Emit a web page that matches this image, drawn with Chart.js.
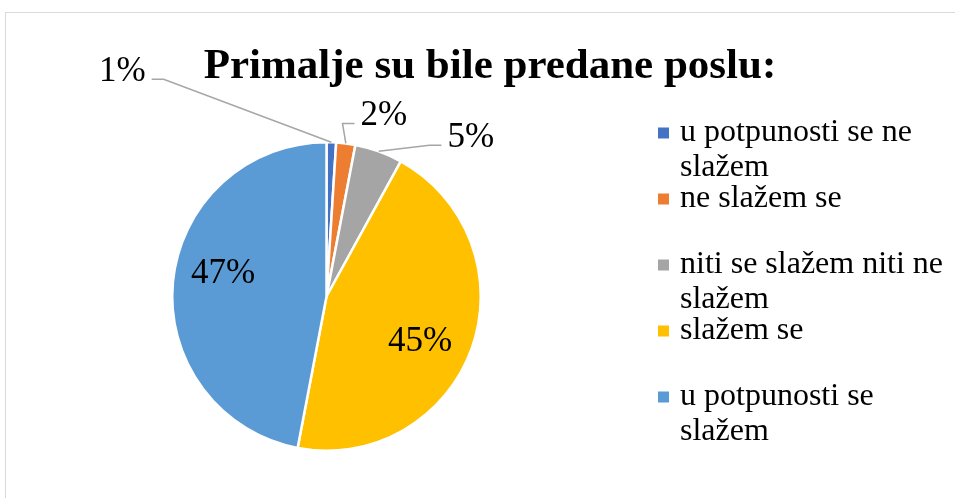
<!DOCTYPE html>
<html>
<head>
<meta charset="utf-8">
<script src="https://cdn.jsdelivr.net/npm/chart.js@4"></script>
<style>
    body { margin: 0; background: #fff; overflow: hidden; }
    #wrap { position: relative; width: 955px; height: 498px; }
    #frame { position: absolute; left: 5px; top: 12px; width: 1000px; height: 600px; border: 1px solid #d9d9d9; }
    canvas { position: absolute; left: 0; top: 0; }
</style>
</head>
<body>
<div id="wrap">
    <div id="frame"></div>
    <canvas id="myChart" width="955" height="498"></canvas>
</div>
<script>
// Pie chart: Primalje su bile predane poslu

const chartTitle = 'Primalje su bile predane poslu:';
const categories = [
    'u potpunosti se ne slažem',
    'ne slažem se',
    'niti se slažem niti ne slažem',
    'slažem se',
    'u potpunosti se slažem'
];
const percentages = [1, 2, 5, 45, 47];
const sliceColors = ['#4472C4', '#ED7D31', '#A5A5A5', '#FFC000', '#5B9BD5'];

const serif = '"Liberation Serif", "Times New Roman", serif';

// where each % label sits, relative to the slice's mid point (outer edge or inside)
const labelPlacement = [
    { inside: false, dx: -209, dy: -71 },
    { inside: false, dx: 38, dy: -28 },
    { inside: false, dx: 92, dy: -14 },
    { inside: true, dx: -5, dy: 10 },
    { inside: true, dx: 1, dy: -13 }
];

function wrapText(ctx, text, maxWidth) {
    const words = text.split(' ');
    const lines = [];
    let line = '';
    words.forEach(w => {
        const test = line ? line + ' ' + w : w;
        if (line && ctx.measureText(test).width > maxWidth) {
            lines.push(line);
            line = w;
        } else {
            line = test;
        }
    });
    if (line) lines.push(line);
    return lines;
}

const pieExtras = {
    id: 'pieExtras',
    afterDatasetsDraw(chart) {
        const ctx = chart.ctx;
        const meta = chart.getDatasetMeta(0);
        ctx.save();

        // title
        ctx.fillStyle = '#000';
        ctx.font = 'bold 43px ' + serif;
        ctx.textAlign = 'center';
        ctx.textBaseline = 'alphabetic';
        ctx.fillText(chartTitle, 490, 78);

        // data labels + leader lines
        ctx.font = '35px ' + serif;
        ctx.textBaseline = 'middle';
        meta.data.forEach((arc, i) => {
            const p = arc.getProps(['x', 'y', 'startAngle', 'endAngle', 'outerRadius'], true);
            const mid = (p.startAngle + p.endAngle) / 2;
            const place = labelPlacement[i];
            const r = place.inside ? p.outerRadius * 0.68 : p.outerRadius;
            const ax = p.x + Math.cos(mid) * r;
            const ay = p.y + Math.sin(mid) * r;
            const lx = ax + place.dx;
            const ly = ay + place.dy;
            const text = percentages[i] + '%';
            ctx.textAlign = 'center';
            ctx.fillStyle = '#000';
            ctx.fillText(text, lx, ly);
            if (!place.inside) {
                const w = ctx.measureText(text).width;
                const side = ax < lx ? -1 : 1;
                const sx = lx + side * (w / 2 + 6);
                const sy = ly + 8;
                const ex = sx + side * 12;
                ctx.strokeStyle = '#A6A6A6';
                ctx.lineWidth = 1.5;
                ctx.beginPath();
                ctx.moveTo(sx, sy);
                ctx.lineTo(ex, sy);
                ctx.lineTo(ax, ay);
                ctx.stroke();
            }
        });

        // legend
        ctx.font = '32px ' + serif;
        ctx.textAlign = 'left';
        ctx.textBaseline = 'middle';
        const legendX = 658;
        const legendTop = 133;
        const itemStep = 66;
        const lineStep = 35;
        chart.data.labels.forEach((label, i) => {
            const y = legendTop + i * itemStep;
            ctx.fillStyle = sliceColors[i];
            ctx.fillRect(legendX, y - 5.5, 11, 11);
            ctx.fillStyle = '#000';
            wrapText(ctx, label, 270).forEach((line, j) => {
                ctx.fillText(line, legendX + 22, y + j * lineStep);
            });
        });

        ctx.restore();
    }
};

const ctx = document.getElementById('myChart');
const myChart = new Chart(ctx, {
    type: 'pie',
    data: {
        labels: categories,
        datasets: [{
            data: percentages,
            backgroundColor: sliceColors,
            borderColor: '#ffffff',
            borderWidth: 2.5
        }]
    },
    options: {
        responsive: false,
        animation: false,
        layout: {
            padding: { left: 171, right: 473, top: 141, bottom: 46 }
        },
        plugins: {
            legend: { display: false },
            tooltip: { enabled: false },
            title: { display: false }
        }
    },
    plugins: [pieExtras]
});
</script>
</body>
</html>
